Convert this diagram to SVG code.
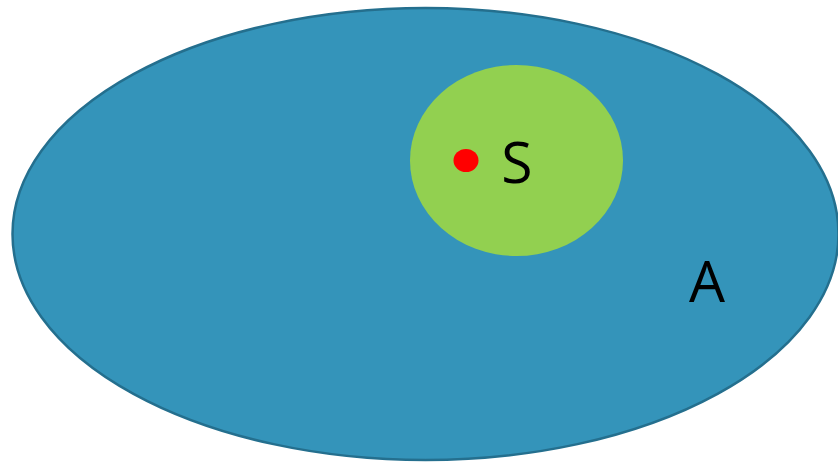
<svg xmlns="http://www.w3.org/2000/svg" width="838" height="462" viewBox="0 0 838 462">
<style>
.lbl{font-family:"Open Sans","Noto Sans","Liberation Sans",sans-serif;font-size:57px;fill:#000;text-anchor:middle}
</style>
<rect width="838" height="462" fill="#fff"/>
<g id="A">
<ellipse cx="425.5" cy="234" rx="413" ry="226" fill="#3494ba" stroke="#246f8e" stroke-width="2.5"/>
<text class="lbl" x="707" y="302">A</text>
</g>
<g id="S">
<ellipse cx="516.5" cy="160.5" rx="106.5" ry="95.5" fill="#92d050"/>
<text class="lbl" x="517" y="183">S</text>
</g>
<g id="point">
<ellipse cx="466" cy="160.5" rx="12.5" ry="11.5" fill="#ff0000"/>
</g>
<g id="connectors"/>
</svg>
